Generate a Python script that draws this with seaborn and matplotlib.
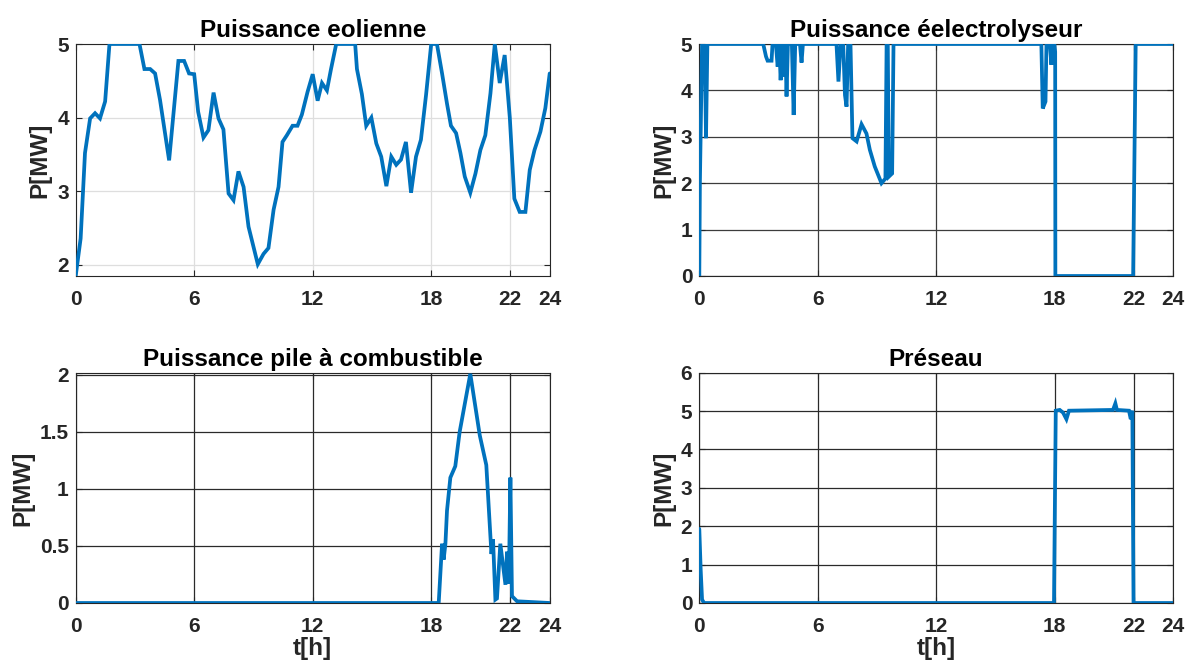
import matplotlib
matplotlib.use("Agg")
import matplotlib.pyplot as plt
import seaborn as sns
import pandas as pd

# ---------------- data ----------------
wind_t = [0, 0.25, 0.47, 0.73, 0.98, 1.23, 1.49, 1.71, 3.23, 3.48, 3.77, 4.02, 4.27, 4.73,
          5.2, 5.49, 5.74, 6.0, 6.2, 6.47, 6.72, 6.98, 7.23, 7.48, 7.74, 7.99, 8.24, 8.5,
          8.75, 9.22, 9.51, 9.76, 10.02, 10.27, 10.47, 10.69, 10.98, 11.23, 11.45, 11.74,
          12.0, 12.25, 12.47, 12.72, 12.92, 13.19, 14.15, 14.24, 14.49, 14.71, 14.97, 15.22,
          15.47, 15.73, 15.98, 16.23, 16.47, 16.72, 16.98, 17.23, 17.48, 17.74, 18.0, 18.29,
          18.55, 18.8, 19.0, 19.26, 19.48, 19.7, 19.98, 20.24, 20.49, 20.74, 21.0, 21.22,
          21.47, 21.72, 21.98, 22.21, 22.48, 22.77, 22.99, 23.23, 23.53, 23.78, 24.0]
wind_p = [1.85, 2.36, 3.52, 3.99, 4.06, 3.99, 4.22, 5.0, 5.0, 4.66, 4.66, 4.60, 4.24, 3.42,
          4.77, 4.77, 4.60, 4.59, 4.08, 3.73, 3.83, 4.34, 3.99, 3.84, 2.97, 2.88, 3.27, 3.06,
          2.52, 2.01, 2.15, 2.23, 2.75, 3.06, 3.67, 3.76, 3.89, 3.89, 4.04, 4.35,
          4.59, 4.23, 4.47, 4.37, 4.65, 5.0, 5.0, 4.66, 4.32, 3.89, 4.0, 3.65,
          3.47, 3.07, 3.47, 3.36, 3.43, 3.67, 2.98, 3.47, 3.70, 4.31, 5.0, 5.0,
          4.60, 4.19, 3.89, 3.79, 3.52, 3.20, 2.98, 3.24, 3.56, 3.76, 4.33, 5.0,
          4.47, 4.85, 4.0, 2.90, 2.72, 2.72, 3.29, 3.56, 3.81, 4.13, 4.60]

elec_t = [0, 0.03, 0.14, 0.27, 0.34, 0.41, 3.24, 3.38, 3.46, 3.66, 3.71, 3.88, 3.97, 4.05,
          4.12, 4.2, 4.29, 4.36, 4.42, 4.49, 4.69, 4.78, 4.86, 5.1, 5.18, 5.25, 6.95, 7.05,
          7.16, 7.29, 7.38, 7.46, 7.54, 7.66, 7.76, 7.97, 8.22, 8.47, 8.64, 8.89, 9.23,
          9.43, 9.49, 9.55, 9.6, 9.77, 9.84, 17.33, 17.4, 17.54, 17.59, 17.76, 17.84,
          17.89, 17.99, 18.03, 18.04, 21.98, 22.11, 24.0]
elec_p = [0, 2.0, 5, 5, 2.97, 5, 5, 4.73, 4.64, 4.64, 5, 5, 4.51, 5,
          4.22, 5, 4.30, 5, 3.87, 5, 5, 3.47, 5, 5, 4.6, 5, 5, 4.19,
          5, 5, 3.9, 3.65, 5, 5, 2.97, 2.9, 3.27, 3.07, 2.72, 2.36, 2.0,
          2.10, 5, 5, 2.14, 2.21, 5, 5, 3.61, 3.76, 5, 5, 4.55,
          5, 5, 4.83, 0, 0, 5, 5]

fc_t = [0, 18.38, 18.55, 18.63, 18.72, 18.8, 18.97, 19.22, 19.44, 19.98, 20.46, 20.79,
        21.0, 21.05, 21.13, 21.25, 21.33, 21.5, 21.76, 21.84, 21.93, 22.01, 22.09, 22.35, 24.0]
fc_p = [0, 0, 0.52, 0.38, 0.52, 0.81, 1.10, 1.20, 1.50, 2.01, 1.47, 1.21,
        0.58, 0.43, 0.56, 0.03, 0.04, 0.52, 0.16, 0.45, 0.17, 1.10, 0.06, 0.015, 0]

grid_t = [0, 0.07, 0.14, 0.24, 17.97, 18.06, 18.26, 18.43, 18.6, 18.73, 20.96, 21.08,
          21.16, 21.77, 21.86, 21.94, 22.0, 24.0]
grid_p = [1.93, 0.87, 0.09, 0, 0, 5.01, 5.03, 4.96, 4.79, 5.01, 5.03, 5.2,
          5.03, 5.01, 4.79, 5.01, 0, 0]

titles = ["Puissance eolienne", "Puissance éelectrolyseur",
          "Puissance pile à combustible", "Préseau"]
xticks = [0, 6, 12, 18, 22, 24]
xticklabels = ["0", "6", "12", "18", "22", "24"]

# ---------------- style ----------------
sns.set_theme(style="white")
plt.rcParams["font.family"] = ["Liberation Sans", "DejaVu Sans"]
plt.rcParams["font.weight"] = "bold"

W, H = 1186, 667
fig = plt.figure(figsize=(W / 100, H / 100), dpi=100)

LINE = "#0072BD"
TICKC = "#262626"

panels = [
    dict(t=wind_t, p=wind_p, rect=(75.7, 44, 549.7, 276), ylim=(1.85, 5), yticks=[2, 3, 4, 5],
         yticklabels=["2", "3", "4", "5"], grid="#dedede", xlabel=False),
    dict(t=elec_t, p=elec_p, rect=(699.3, 44, 1173, 276), ylim=(0, 5), yticks=[0, 1, 2, 3, 4, 5],
         yticklabels=["0", "1", "2", "3", "4", "5"], grid="#3c3c3c", xlabel=False),
    dict(t=fc_t, p=fc_p, rect=(75.7, 372.7, 549.7, 603), ylim=(0, 2.02), yticks=[0, 0.5, 1, 1.5, 2],
         yticklabels=["0", "0.5", "1", "1.5", "2"], grid="#2a2a2a", xlabel=True),
    dict(t=grid_t, p=grid_p, rect=(699.3, 372.7, 1173, 603), ylim=(0, 6), yticks=[0, 1, 2, 3, 4, 5, 6],
         yticklabels=["0", "1", "2", "3", "4", "5", "6"], grid="#2a2a2a", xlabel=True),
]

for i, pn in enumerate(panels):
    x0, y0, x1, y1 = pn["rect"]
    ax = fig.add_axes([x0 / W, 1 - y1 / H, (x1 - x0) / W, (y1 - y0) / H])
    df = pd.DataFrame({"t": pn["t"], "P": pn["p"]})
    sns.lineplot(data=df, x="t", y="P", ax=ax, color=LINE, linewidth=2.7,
                 sort=False, estimator=None, solid_joinstyle="miter", zorder=3)
    ax.set_xlim(0, 24)
    ax.set_ylim(*pn["ylim"])
    ax.set_xticks(xticks)
    ax.set_xticklabels(xticklabels)
    ax.set_yticks(pn["yticks"])
    ax.set_yticklabels(pn["yticklabels"])
    ax.grid(True, color=pn["grid"], linewidth=0.9)
    ax.set_axisbelow(True)
    for s in ax.spines.values():
        s.set_visible(True)
        s.set_color("#262626")
        s.set_linewidth(0.8)
    ax.tick_params(axis="both", direction="in", length=4, width=0.8, colors=TICKC,
                   labelsize=15, top=True, right=True, bottom=True, left=True)
    ax.tick_params(axis="x", pad=10)
    ax.tick_params(axis="y", pad=5)
    for lab in ax.get_xticklabels() + ax.get_yticklabels():
        lab.set_fontweight("bold")
    ax.set_title(titles[i], fontsize=17.5, fontweight="bold", color="black", pad=5)
    ax.set_ylabel("P[MW]", fontsize=17.5, fontweight="bold", color=TICKC, labelpad=4)
    if pn["xlabel"]:
        ax.set_xlabel("t[h]", fontsize=17.5, fontweight="bold", color=TICKC, labelpad=1)
    else:
        ax.set_xlabel("")

fig.savefig("out.png", dpi=100)
